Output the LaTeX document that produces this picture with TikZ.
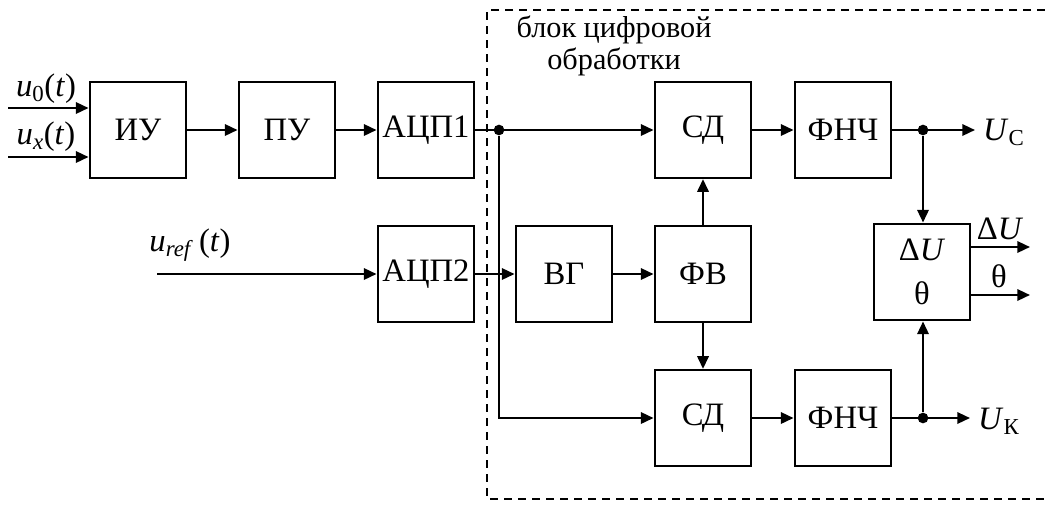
\documentclass[tikz,border=0pt]{standalone}
\usepackage{fontspec}
\setmainfont{Liberation Serif}
\usetikzlibrary{arrows.meta}
\begin{document}
\begin{tikzpicture}[x=0.75pt,y=-0.75pt,font=\fontsize{24.5}{29}\selectfont,
  line width=1.7pt,
  blk/.style={draw,minimum width=72.5pt,minimum height=72pt,inner sep=0pt},
  sig/.style={-{Triangle[length=9.5pt,width=8.5pt]}},
  dot/.style={circle,fill,inner sep=0pt,minimum size=8pt},
  lbl/.style={inner sep=0pt}]
\useasboundingbox (0,0) rectangle (1045,504);
% digital processing block
\draw[dashed,line width=1pt,dash pattern=on 6pt off 4.5pt] (1045,10) -- (487,10) -- (487,499) -- (1045,499);
\node[lbl,align=center,font=\fontsize{22.7}{24}\selectfont] (dsp) at (614,46) {блок цифровой\\обработки};
% blocks
\node[blk] (iu) at (138,130) {ИУ};
\node[blk] (pu) at (287,130) {ПУ};
\node[blk] (adc1) at (426,130) {АЦП1};
\node[blk] (adc2) at (426,274) {АЦП2};
\node[blk] (vg) at (564,274) {ВГ};
\node[blk] (fv) at (703,274) {ФВ};
\node[blk] (sd1) at (703,130) {СД};
\node[blk] (sd2) at (703,418) {СД};
\node[blk] (lpf1) at (843,130) {ФНЧ};
\node[blk] (lpf2) at (843,418) {ФНЧ};
\node[blk,minimum width=72pt,minimum height=72.5pt,align=center] (calc) at (922,272) {Δ\textit{U}\\[4pt]θ};
% inputs
\coordinate (in0) at (8,108);
\coordinate (inx) at (8,157);
\coordinate (inr) at (157,274);
\draw[sig] (in0) -- (in0 -| iu.west);
\draw[sig] (inx) -- (inx -| iu.west);
\draw[sig] (inr) -- (adc2);
\node[lbl] (l0) at (46,89) {\textit{u}\textsubscript{0}(\textit{t})};
\node[lbl] (lx) at (46,137) {\textit{u}\textsubscript{\textit{x}}(\textit{t})};
\node[lbl] (lr) at (190,245) {\textit{u}\textsubscript{\textit{ref}}\,(\textit{t})};
% chain
\draw[sig] (iu) -- (pu);
\draw[sig] (pu) -- (adc1);
\draw[sig] (adc1) -- (sd1);
\draw[sig] (adc2) -- (vg);
\draw[sig] (vg) -- (fv);
\draw[sig] (fv) -- (sd1);
\draw[sig] (fv) -- (sd2);
\draw[sig] (sd1) -- (lpf1);
\draw[sig] (sd2) -- (lpf2);
\node[dot] (j1) at (499,130) {};
\coordinate (c1) at (499,418);
\draw[sig] (j1) -- (c1) -- (sd2);
% outputs
\node[dot] (j2) at (923,130) {};
\node[dot] (j3) at (923,418) {};
\coordinate (oc) at (975,130);
\coordinate (ok) at (970,418);
\coordinate (odu) at (1030,247);
\coordinate (oth) at (1030,295);
\draw[sig] (lpf1) -- (oc);
\draw[sig] (lpf2) -- (ok);
\draw[sig] (j2) -- (j2 |- calc.north);
\draw[sig] (j3) -- (j3 |- calc.south);
\draw[sig] (odu -| calc.east) -- (odu);
\draw[sig] (oth -| calc.east) -- (oth);
\node[lbl,anchor=west] (lc) at (982,132) {\textit{U}\textsubscript{С}};
\node[lbl,anchor=west] (lk) at (977,421) {\textit{U}\textsubscript{К}};
\node[lbl] (ldu) at (1000,229) {Δ\textit{U}};
\node[lbl] (lth) at (999,276) {θ};
\end{tikzpicture}
\end{document}
